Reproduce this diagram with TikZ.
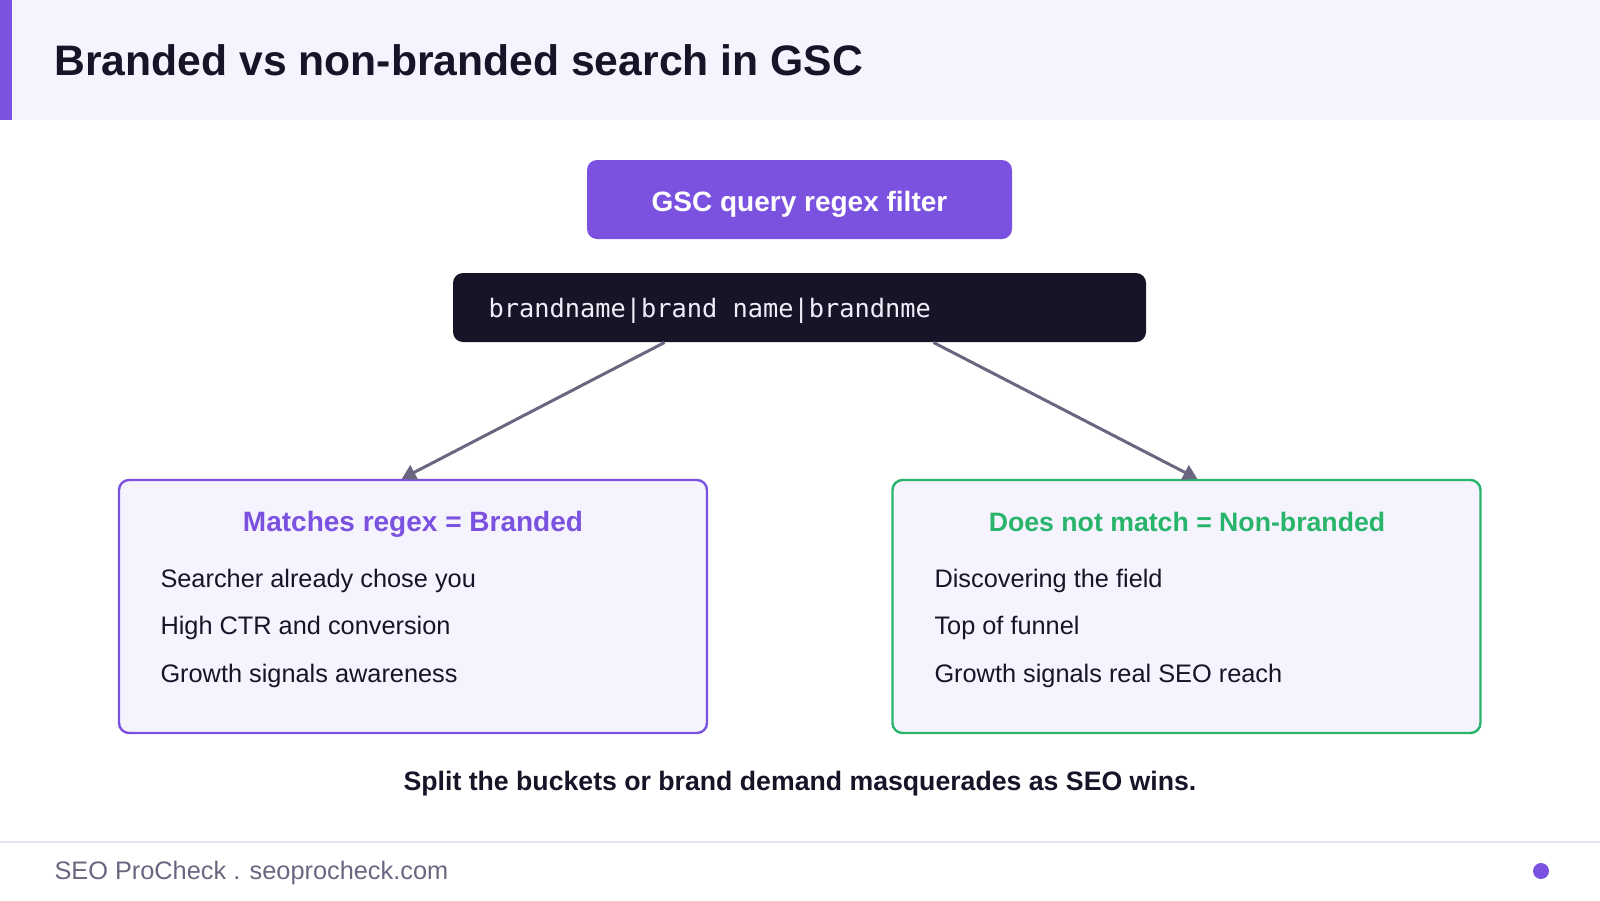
\documentclass[tikz,border=0pt]{standalone}
\usepackage{fontspec}
\setmainfont{Liberation Sans}
\setmonofont{DejaVu Sans Mono}
\usetikzlibrary{arrows.meta,calc}

\definecolor{brandpurple}{RGB}{123,82,224}
\definecolor{nonbrandgreen}{RGB}{41,180,108}
\definecolor{inkdark}{RGB}{24,20,40}
\definecolor{panelbg}{RGB}{245,243,253}
\definecolor{slategray}{RGB}{107,102,128}
\definecolor{rulegray}{RGB}{230,228,238}
\definecolor{codetext}{RGB}{240,238,248}

\tikzset{every picture/.style={line width=0.75pt}}
\tikzset{
	bucketbox/.style={draw, fill=panelbg, line width=1.8pt, rounded corners=7.5pt, minimum width=441pt, minimum height=189.75pt},
	buckettitle/.style={anchor=base, inner sep=0pt, font=\fontsize{21}{25}\selectfont\bfseries},
	itemtext/.style={anchor=base west, inner sep=0pt, text=inkdark, font=\fontsize{19}{23}\selectfont},
	flow/.style={draw=slategray, line width=2.25pt, -{Triangle[length=10.5pt,width=12pt]}},
}

\begin{document}
\begin{tikzpicture}[x=0.75pt,y=0.75pt,yscale=-1,xscale=1]
	\useasboundingbox (0,0) rectangle (1600,900);
	
	%Shape: Header band
	\fill [panelbg] (0,0) rectangle (1600,120);
	\fill [brandpurple] (0,0) rectangle (12,120);
	% Text Node
	\node (title) [anchor=base west, inner sep=0pt, text=inkdark, font=\fontsize{32}{38}\selectfont\bfseries] at (54,75) {Branded vs non-branded search in GSC};
	
	%Rounded Rect: filter
	\node (filter) [fill=brandpurple, rounded corners=7.5pt, minimum width=318.75pt, minimum height=59.25pt] at (799.5,199.5) {};
	% Text Node
	\node (filterlabel) [text=white, font=\fontsize{21}{25}\selectfont\bfseries] at (799.5,204) {GSC query regex filter};
	%Rounded Rect: regex
	\node (regex) [fill=inkdark, rounded corners=7.5pt, minimum width=519.75pt, minimum height=51.75pt] at (799.5,307.5) {};
	% Text Node
	\node (regexstr) [anchor=west, inner sep=0pt, text=codetext, font=\ttfamily\fontsize{19}{23}\selectfont] at (488,311) {brandname|brand name|brandnme};
	
	%Rounded Rect: buckets
	\node (branded) [bucketbox, draw=brandpurple] at (413,606.5) {};
	\node (nonbranded) [bucketbox, draw=nonbrandgreen] at (1186.5,606.5) {};
	
	%Straight Lines
	\draw [flow] ($(regex.south west)+(212,0)$) -- ($(branded.north west)+(284,0)$);
	\draw [flow] ($(regex.south west)+(481,0)$) -- ($(nonbranded.north west)+(306,0)$);
	
	% Text Node
	\node (brandedtitle) [buckettitle, text=brandpurple] at (413,531) {Matches regex = Branded};
	\node (nonbrandedtitle) [buckettitle, text=nonbrandgreen, font=\fontsize{20}{24}\selectfont\bfseries] at (1187,531) {Does not match = Non-branded};
	\foreach \txt [count=\i] in {Searcher already chose you, High CTR and conversion, Growth signals awareness}
		\node (branditem\i) [itemtext] at (160,539.5+47.5*\i) {\txt};
	\foreach \txt [count=\i] in {Discovering the field, Top of funnel, Growth signals real SEO reach}
		\node (nonbranditem\i) [itemtext] at (934,539.5+47.5*\i) {\txt};
	
	% Text Node
	\node (takeaway) [text=inkdark, font=\fontsize{20}{24}\selectfont\bfseries] at (800,784) {Split the buckets or brand demand masquerades as SEO wins.};
	
	%Footer
	\draw [rulegray, line width=1.5pt] (0,842) -- (1600,842);
	\node (footer) [anchor=west, inner sep=0pt, text=slategray, font=\fontsize{19}{23}\selectfont] at (54,873) {SEO ProCheck . seoprocheck.com};
	\fill [brandpurple] (1541,871) circle (6pt);
\end{tikzpicture}
\end{document}
